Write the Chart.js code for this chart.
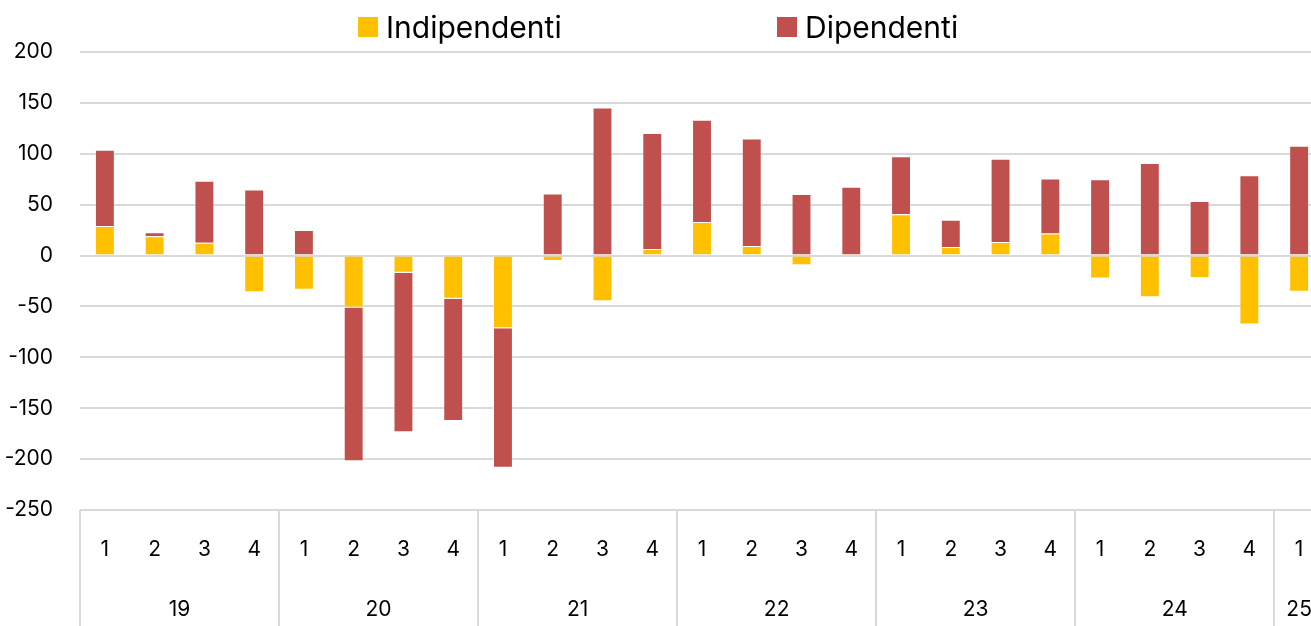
<!DOCTYPE html>
<html>
<head>
<meta charset="utf-8">
<script src="https://cdn.jsdelivr.net/npm/chart.js@4.4.1/dist/chart.umd.min.js"></script>
<style>
  html, body { margin: 0; padding: 0; background: #fff; overflow: hidden; }
  #wrap { position: relative; width: 1324px; height: 626px; }
  .leg { position: absolute; top: 10px; height: 34px; display: flex; align-items: center;
         font: 30px Inter, sans-serif; color: #000; white-space: nowrap; }
  .leg i { display: inline-block; width: 20px; height: 20px; margin-right: 8px; }
</style>
</head>
<body>
<div id="wrap">
  <canvas id="chart" width="1324" height="626"></canvas>
</div>
<script>
// quarters 2019Q1 .. 2025Q1
const quarters = ['1','2','3','4','1','2','3','4','1','2','3','4','1','2','3','4','1','2','3','4','1','2','3','4','1'];
const years = ['19', '20', '21', '22', '23', '24', '25'];
const indipendenti = [29, 19, 12.5, -36, -33.5, -51, -17, -42.5, -71.5, -5.3, -45, 6.5,
  33, 9.5, -9.5, 0, 40.5, 8.3, 13.2, 21.7, -22.5, -41, -22, -67.7, -35.5];
const dipendenti = [75, 4, 61, 65, 25, -151, -156.5, -120, -137, 61, 145.5, 114,
  100.5, 105.5, 60.5, 67.5, 57, 27, 81.8, 54, 75, 91, 53.5, 79, 108];
const seriesNames = ['Indipendenti', 'Dipendenti'];
const seriesColors = ['#FFC000', '#C0504D'];

const FONT = 'Inter, sans-serif';

// group boundaries / centers for the year row
const starts = [];
quarters.forEach((q, i) => { if (q === '1') starts.push(i); });
const bounds = starts.map(i => i - 0.5).concat([quarters.length - 0.5]);
const centers = starts.map((s, k) => (s + (k + 1 < starts.length ? starts[k + 1] : quarters.length) - 1) / 2);

// html legend
const wrap = document.getElementById('wrap');
const legX = [358, 777];
seriesNames.forEach((name, i) => {
  const d = document.createElement('div');
  d.className = 'leg';
  d.style.left = legX[i] + 'px';
  d.innerHTML = '<i style="background:' + seriesColors[i] + '"></i>' + name;
  wrap.appendChild(d);
});

// year row + group separators under the quarter labels
const yearRow = {
  id: 'yearRow',
  afterDraw(chart) {
    const x = chart.scales.x, c = chart.ctx, bottom = chart.chartArea.bottom;
    c.save();
    c.strokeStyle = '#d9d9d9';
    c.lineWidth = 2;
    bounds.forEach(b => {
      const px = Math.round(x.getPixelForValue(b));
      c.beginPath();
      c.moveTo(px, bottom);
      c.lineTo(px, chart.height);
      c.stroke();
    });
    c.fillStyle = '#000';
    c.font = '21px ' + FONT;
    c.textAlign = 'center';
    c.textBaseline = 'middle';
    centers.forEach((v, i) => c.fillText(years[i], x.getPixelForValue(v), bottom + 100));
    c.restore();
  }
};

new Chart(document.getElementById('chart'), {
  type: 'bar',
  data: {
    labels: quarters,
    datasets: [
      { label: seriesNames[0], data: indipendenti, backgroundColor: seriesColors[0],
        borderColor: 'rgba(255,255,255,0.3)', borderWidth: 1, barPercentage: 0.4, categoryPercentage: 1 },
      { label: seriesNames[1], data: dipendenti, backgroundColor: seriesColors[1],
        borderColor: 'rgba(255,255,255,0.3)', borderWidth: 1, barPercentage: 0.4, categoryPercentage: 1 }
    ]
  },
  options: {
    responsive: false,
    animation: false,
    layout: { padding: { top: 52, left: 0, right: 0, bottom: 60 } },
    plugins: { legend: { display: false }, tooltip: { enabled: false } },
    scales: {
      x: {
        stacked: true,
        grid: { display: false, drawTicks: false },
        border: { display: false },
        // tall line height puts the label centre 40px below the axis without side padding
        ticks: { padding: 0, color: '#000', font: { size: 21, family: FONT, lineHeight: '80px' },
                 maxRotation: 0, autoSkip: false },
        afterFit: s => { s.height = 56; }
      },
      y: {
        stacked: true,
        min: -250,
        max: 200,
        ticks: { stepSize: 50, padding: 27, color: '#000', font: { size: 21, family: FONT } },
        grid: { color: '#d9d9d9', lineWidth: 2, drawTicks: false },
        border: { display: false },
        afterFit: s => { s.width = 80; }
      }
    }
  },
  plugins: [yearRow]
});
</script>
</body>
</html>
